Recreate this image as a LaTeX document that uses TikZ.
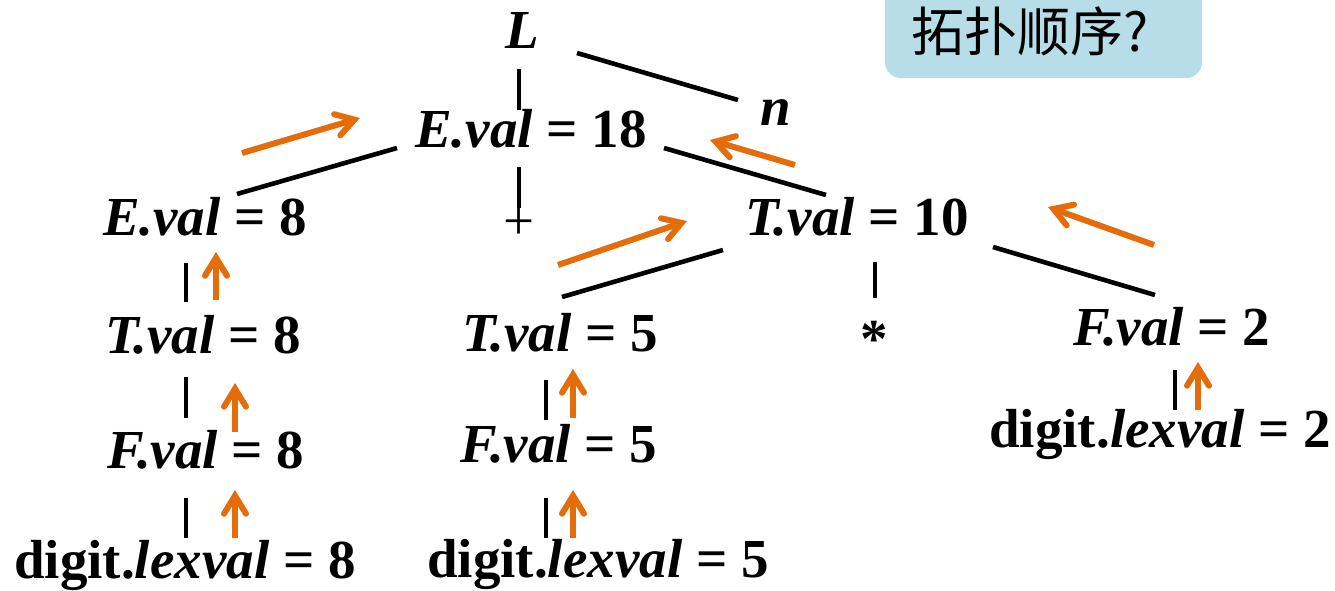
\documentclass[tikz,border=0pt]{standalone}
\usepackage{fontspec}
\setmainfont{Liberation Serif}
\newfontfamily\cjkfont{Noto Sans CJK SC}
\usetikzlibrary{arrows.meta}
\definecolor{floworange}{HTML}{E46C0A}
\definecolor{askblue}{HTML}{B7DDE8}
\tikzset{
    attr/.style={font=\fontsize{27.5}{32}\selectfont\bfseries,
      inner sep=0pt,outer sep=0pt,anchor=base},
    sym/.style={font=\fontsize{27.5}{32}\selectfont,inner sep=0pt,outer sep=0pt},
    treeedge/.style={draw=black,line width=2.3pt},
    flowarrow/.style={draw=floworange,line width=3pt,
      -{Straight Barb[length=9pt,width=11pt,line cap=round]}}
}

\begin{document}
\begin{tikzpicture}[x=0.5pt,y=-0.5pt]
  \clip (0,0) rectangle (1335,590);
  % question box
  \fill[askblue,rounded corners=8pt] (885,-30) rectangle (1202,78);
  \node[anchor=base west,inner sep=0pt,font=\cjkfont\fontsize{26.5}{30}\selectfont]
    (ask) at (911,51) {拓扑顺序?};
  % parse tree
  \node[attr] (L) at (522,48) {\itshape L};
  \node[attr] (n) at (776,125) {\itshape n};
  \node[attr] (E18) at (531,147) {\itshape E.val\/\upshape{} = 18};
  \node[attr] (E8) at (205,235) {\itshape E.val\/\upshape{} = 8};
  \node[sym] (plus) at (519,224) {+};
  \node[attr] (T10) at (857,235) {\itshape T.val\/\upshape{} = 10};
  \node[attr] (T8) at (203,353) {\itshape T.val\/\upshape{} = 8};
  \node[attr] (T5) at (560,351) {\itshape T.val\/\upshape{} = 5};
  \node[sym,font=\fontsize{27.5}{32}\selectfont\bfseries] (star) at (874,339) {*};
  \node[attr] (F2) at (1172,345) {\itshape F.val\/\upshape{} = 2};
  \node[attr] (F8) at (206,468) {\itshape F.val\/\upshape{} = 8};
  \node[attr] (F5) at (559,462) {\itshape F.val\/\upshape{} = 5};
  \node[attr] (D2) at (1160,447) {digit.\textit{lexval\/} = 2};
  \node[attr] (D8) at (185,578) {digit.\textit{lexval\/} = 8};
  \node[attr] (D5) at (598,577) {digit.\textit{lexval\/} = 5};
  % tree edges
  \draw[treeedge] ([shift={(55,5)}]L.base) -- ([shift={(-38,-25)}]n.base);
  \draw[treeedge] ([shift={(-3,21)}]L.base) -- ([shift={(-12,-37)}]E18.base);
  \draw[treeedge] ([shift={(-12,20)}]E18.base) -- ([shift={(0,-16)}]plus.center);
  \draw[treeedge] ([shift={(133,1)}]E18.base) -- ([shift={(-31,-40)}]T10.base);
  \draw[treeedge] ([shift={(-134,1)}]E18.base) -- ([shift={(32,-41)}]E8.base);
  \draw[treeedge] ([shift={(-19,28)}]E8.base) -- ([shift={(-17,-51)}]T8.base);
  \draw[treeedge] ([shift={(-17,24)}]T8.base) -- ([shift={(-20,-50)}]F8.base);
  \draw[treeedge] ([shift={(-20,30)}]F8.base) -- ([shift={(1,-40)}]D8.base);
  \draw[treeedge] ([shift={(-134,15)}]T10.base) -- ([shift={(2,-54)}]T5.base);
  \draw[treeedge] ([shift={(18,27)}]T10.base) -- ([shift={(1,-41)}]star.center);
  \draw[treeedge] ([shift={(136,12)}]T10.base) -- ([shift={(-17,-50)}]F2.base);
  \draw[treeedge] ([shift={(-14,29)}]T5.base) -- ([shift={(-13,-42)}]F5.base);
  \draw[treeedge] ([shift={(-13,36)}]F5.base) -- ([shift={(-52,-39)}]D5.base);
  \draw[treeedge] ([shift={(3,25)}]F2.base) -- ([shift={(15,-37)}]D2.base);
  % value flow
  \draw[flowarrow] ([shift={(37,-82)}]E8.base) -- ([shift={(-171,-29)}]E18.base);
  \draw[flowarrow] ([shift={(-62,-70)}]T10.base) -- ([shift={(179,-7)}]E18.base);
  \draw[flowarrow] ([shift={(-2,-86)}]T5.base) -- ([shift={(-170,-14)}]T10.base);
  \draw[flowarrow] ([shift={(-18,-100)}]F2.base) -- ([shift={(191,-28)}]T10.base);
  \draw[flowarrow] ([shift={(13,-53)}]T8.base) -- ([shift={(11,17)}]E8.base);
  \draw[flowarrow] ([shift={(29,-36)}]F8.base) -- ([shift={(32,30)}]T8.base);
  \draw[flowarrow] ([shift={(50,-40)}]D8.base) -- ([shift={(29,22)}]F8.base);
  \draw[flowarrow] ([shift={(14,-44)}]F5.base) -- ([shift={(13,18)}]T5.base);
  \draw[flowarrow] ([shift={(-25,-39)}]D5.base) -- ([shift={(14,28)}]F5.base);
  \draw[flowarrow] ([shift={(38,-37)}]D2.base) -- ([shift={(26,17)}]F2.base);
\end{tikzpicture}
\end{document}
